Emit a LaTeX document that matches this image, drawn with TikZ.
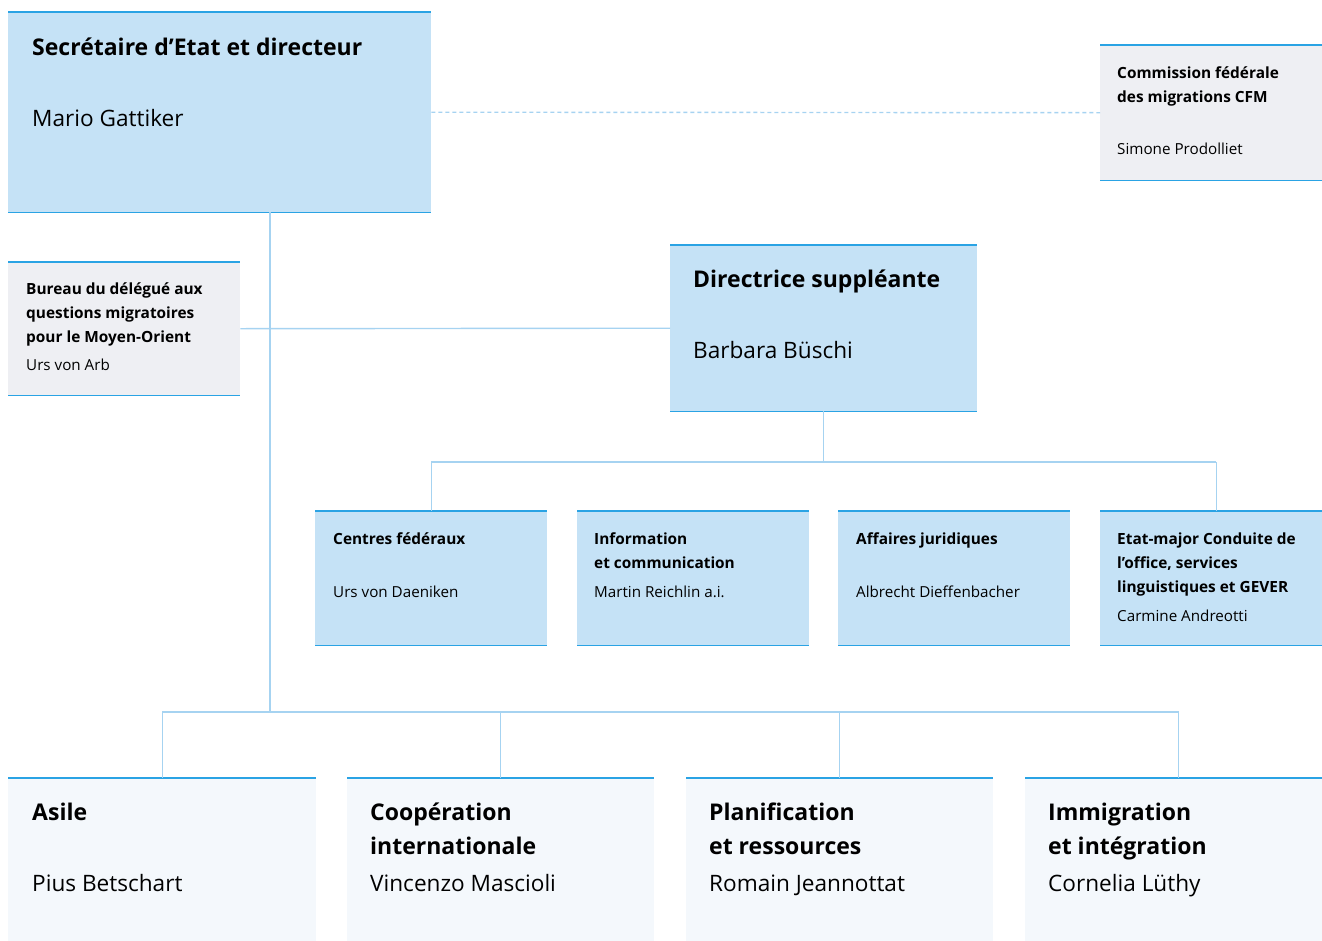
\documentclass[tikz,border=0pt]{standalone}
\usepackage{fontspec}
\setmainfont{Open Sans}
\usepackage{xcolor}
\usepackage{tikz}
\definecolor{boxblue}{HTML}{C5E2F6}
\definecolor{boxgrey}{HTML}{EEEFF3}
\definecolor{boxpale}{HTML}{F4F8FC}
\definecolor{edgeblue}{HTML}{2AA3E4}
\definecolor{linkblue}{HTML}{A6D3F1}

\begin{document}
\begin{tikzpicture}[x=1pt, y=-1pt,
    box/.style={anchor=north west, inner sep=0pt, minimum width=#1},
    box/.default=232pt,
    bigtitle/.style={anchor=base west, inner sep=0pt, align=left,
      font=\fontsize{23}{34}\selectfont\bfseries},
    bigname/.style={anchor=base west, inner sep=0pt,
      font=\fontsize{22.6}{34}\selectfont},
    smalltitle/.style={anchor=base west, inner sep=0pt, align=left,
      font=\fontsize{15.4}{24}\selectfont\bfseries},
    smallname/.style={anchor=base west, inner sep=0pt,
      font=\fontsize{15.2}{24}\selectfont},
    link/.style={draw=linkblue, line width=1.4pt}]
  \useasboundingbox (0,0) rectangle (1322,940);

  % boxes
  \node[box=423pt, fill=boxblue, minimum height=200pt] (sec) at (8,12){};
  \node[box=232pt, fill=boxgrey, minimum height=135pt] (cfm) at (1100,45){};
  \node[box=232pt, fill=boxgrey, minimum height=133pt] (bur) at (8,262){};
  \node[box=307pt, fill=boxblue, minimum height=166pt] (dep) at (670,245){};
  \node[box, fill=boxblue, minimum height=134pt] (cen) at (315,511){};
  \node[box, fill=boxblue, minimum height=134pt] (inf) at (577,511){};
  \node[box, fill=boxblue, minimum height=134pt] (jur) at (838,511){};
  \node[box, fill=boxblue, minimum height=134pt] (etat) at (1100,511){};
  \node[box=308pt, fill=boxpale, minimum height=170pt] (asi) at (8,778){};
  \node[box=307pt, fill=boxpale, minimum height=170pt] (coop) at (347,778){};
  \node[box=307pt, fill=boxpale, minimum height=170pt] (plan) at (686,778){};
  \node[box=307pt, fill=boxpale, minimum height=170pt] (imm) at (1025,778){};

  \foreach \b in {sec, cfm, bur, dep, cen, inf, jur, etat, asi, coop, plan, imm} {
    \draw[edgeblue, line width=1.8pt] (\b.north west) -- (\b.north east);
    \draw[edgeblue, line width=1.8pt] (\b.south west) -- (\b.south east);
  }

  % texts (base = last line)
  \node[bigtitle] (sect) at (32,55){Secrétaire d’Etat et directeur};
  \node[bigname] (secn) at (32,126){Mario Gattiker};
  \node[smalltitle] (cfmt) at (1117,102){Commission fédérale\\des migrations CFM};
  \node[smallname] (cfmn) at (1117,154){Simone Prodolliet};
  \node[smalltitle] (burt) at (26,342){Bureau du délégué aux\\questions migratoires\\pour le Moyen-Orient};
  \node[smallname] (burn) at (26,370){Urs von Arb};
  \node[bigtitle] (dept) at (693,287){Directrice suppléante};
  \node[bigname] (depn) at (693,358){Barbara Büschi};

  \node[smalltitle] (cent) at (333,544){Centres fédéraux};
  \node[smallname] (cenn) at (333,597){Urs von Daeniken};
  \node[smalltitle] (inft) at (594,568){Information\\et communication};
  \node[smallname] (infn) at (594,597){Martin Reichlin a.i.};
  \node[smalltitle] (jurt) at (856,544){Affaires juridiques};
  \node[smallname] (jurn) at (856,597){Albrecht Dieffenbacher};
  \node[smalltitle] (etatt) at (1117,592){Etat-major Conduite de\\l’office, services\\linguistiques et GEVER};
  \node[smallname] (etatn) at (1117,621){Carmine Andreotti};

  \node[bigtitle] (asit) at (32,820){Asile};
  \node[bigname] (asin) at (32,891){Pius Betschart};
  \node[bigtitle] (coopt) at (370,854){Coopération\\internationale};
  \node[bigname] (coopn) at (370,891){Vincenzo Mascioli};
  \node[bigtitle] (plant) at (709,854){Planification\\et ressources};
  \node[bigname] (plann) at (709,891){Romain Jeannottat};
  \node[bigtitle] (immt) at (1048,854){Immigration\\et intégration};
  \node[bigname] (immn) at (1048,891){Cornelia Lüthy};

  % connectors
  \coordinate (trunk) at (270,712);
  \coordinate (midbar) at (823,462);
  \draw[link, dashed, dash pattern=on 4pt off 3pt] (sec.east) -- (cfm.west);
  \draw[link] (sec.south -| trunk) -- (trunk);
  \draw[link] (bur.east) -- (dep.west);
  \draw[link] (dep.south) -- (dep.south |- midbar);
  \draw[link] (cen.north |- midbar) -- (etat.north |- midbar);
  \draw[link] (cen.north |- midbar) -- (cen.north);
  \draw[link] (etat.north |- midbar) -- (etat.north);
  \draw[link] (asi.north |- trunk) -- (imm.north |- trunk);
  \foreach \b in {asi, coop, plan, imm}
    \draw[link] (\b.north |- trunk) -- (\b.north);
\end{tikzpicture}
\end{document}
